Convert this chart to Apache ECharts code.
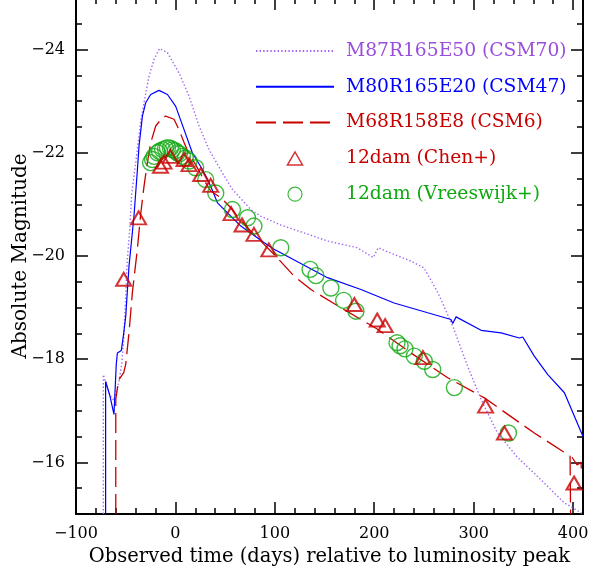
<!DOCTYPE html>
<html>
<head>
<meta charset="utf-8">
<script src="https://cdn.jsdelivr.net/npm/echarts@6/dist/echarts.min.js"></script>
<style>
html,body{margin:0;padding:0;background:#fff;}
#chart{width:604px;height:573px;}
</style>
</head>
<body>
<div id="chart"></div>
<script>
// ---- tick values ----
const xMajorTicks = [-100, 0, 100, 200, 300, 400];
const xMinorTicks = [-80,-60,-40,-20,20,40,60,80,120,140,160,180,220,240,260,280,320,340,360,380];
const yMajorTicks = [-24, -22, -20, -18, -16];
const yMinorTicks = [-24.5,-23.5,-23,-22.5,-21.5,-21,-20.5,-19.5,-19,-18.5,-17.5,-17,-16.5,-15.5];

// ---- model light curves ----
const csm70Days = [-72.5,-72.5,-66,-62,-57,-54,-52,-50.5,-48.5,-46,-44,-40,-35,-31.6,-26.6,-21.5,-16,-8,3.6,13.7,23.8,33.8,47.3,57.4,75.8,86,106,126,153,183,199,204,220,237,250,258,265,279,294,307.5,314,324,344,371,391,410];
const csm70Mag  = [-15,-17.7,-17.3,-17.2,-17.55,-17.9,-18.4,-19.0,-19.9,-20.5,-21.2,-21.8,-22.6,-22.97,-23.48,-23.81,-24.02,-23.94,-23.55,-23.1,-22.52,-22.06,-21.61,-21.29,-20.9,-20.77,-20.6,-20.47,-20.29,-20.16,-19.97,-20.16,-20.03,-19.9,-19.77,-19.5,-19.25,-18.64,-17.86,-17.22,-16.96,-16.57,-16.1,-15.6,-15.22,-15.0];

const csm47Days = [-70.2,-70.2,-66,-61.8,-59.5,-58.4,-54.4,-52,-50,-46.7,-41.7,-38.5,-36.6,-33.2,-29.9,-24.9,-16.5,-8,0.3,8.7,17,27,35.5,42.3,65.8,89,99.3,153,186.6,220,253.8,277.2,279,282.3,307.5,327.6,346,349.4,361,374.6,391.3,410];
const csm47Mag  = [-15,-17.57,-17.3,-16.93,-17.9,-18.12,-18.17,-18.5,-18.83,-19.8,-20.77,-21.6,-22.13,-22.71,-22.97,-23.13,-23.21,-23.13,-22.9,-22.45,-22.0,-21.68,-21.35,-21.03,-20.58,-20.26,-20.13,-19.58,-19.35,-19.09,-18.9,-18.77,-18.69,-18.82,-18.56,-18.51,-18.41,-18.43,-18.06,-17.7,-17.35,-16.5];

const csm6Days = [-60,-60,-57,-52,-50,-46.7,-43.3,-38.3,-35,-31.6,-28.2,-24.9,-19.8,-13.1,-9.8,-1.4,3.6,8.7,13,20,28,35.5,45.6,55,65,80,99.3,119.4,136.3,169.8,203.4,237,273.9,310.8,361,394.8,397,397.5,398,399,404,408,408.5];
const csm6Mag  = [-15,-17.22,-17.6,-17.74,-17.9,-18.51,-19.29,-20.13,-20.8,-21.35,-21.81,-22.19,-22.52,-22.68,-22.71,-22.65,-22.45,-22.2,-22.0,-21.78,-21.5,-21.26,-21.13,-20.95,-20.7,-20.4,-20.03,-19.61,-19.35,-18.96,-18.58,-18.12,-17.64,-17.25,-16.57,-16.15,-16.12,-15.0,null,-16.1,-15.95,-16.0,-15.75];

// ---- observations ----
const chenDays = [-52,-37,-15,-11.5,-5,8.7,13.7,25.5,35.5,56,67,79,94,180,203,211,249,312,331,401];
const chenMag  = [-19.55,-20.74,-21.74,-21.82,-21.93,-21.87,-21.77,-21.58,-21.37,-20.82,-20.6,-20.42,-20.12,-19.06,-18.76,-18.65,-18.03,-17.09,-16.57,-15.6];

const vreesDays = [-25,-23,-21.5,-18,-16,-13,-10,-8,-5,-3,0,2,4,7,10,13.7,20.4,30.5,40.6,57.4,72.5,79,106,135.5,141.3,156.4,169.2,181.6,222.9,226,230.9,240.3,250.4,258.8,280.6,335];
const vreesMag  = [-21.81,-21.87,-21.93,-22.0,-22.03,-22.06,-22.08,-22.1,-22.09,-22.06,-22.04,-22.0,-21.98,-21.93,-21.9,-21.84,-21.71,-21.48,-21.22,-20.9,-20.74,-20.58,-20.16,-19.74,-19.62,-19.38,-19.14,-18.93,-18.32,-18.26,-18.2,-18.06,-17.96,-17.8,-17.45,-16.57];

const names = ['M87R165E50 (CSM70)', 'M80R165E20 (CSM47)', 'M68R158E8 (CSM6)', '12dam (Chen+)', '12dam (Vreeswijk+)'];

function zip(a, b) { return a.map((v, i) => [v, b[i] === null ? '-' : b[i]]); }

const FONT = 'DejaVu Serif';
const PURPLE = '#a264f2', PURPLE_T = '#9a4fdc';
const BLUE = '#0000ff';
const RED = '#c80000';
const GREEN = '#10a810';
const NONE = 'rgba(0,0,0,0)';
const minus = v => (v < 0 ? '\u2212' + Math.abs(v) : '' + v);

// legend icons: invisible bounding points keep the 78x14 legend box, so the mark keeps its shape
const TRI_ICON = 'path://M0,0M78,14M31.5,13.5L39,0.5L46.5,13.5Z';
const CIRC_ICON = 'path://M0,0M78,14M46,7A7,7,0,1,1,32,7A7,7,0,1,1,46,7Z';

const XMIN = -100, XMAX = 410, YMIN = -25, YMAX = -15;

function xAx(pos, vals, len, labels) {
  return {
    type: 'value', position: pos, min: XMIN, max: XMAX,
    axisLine: {show: false, onZero: false}, splitLine: {show: false},
    axisTick: {show: true, inside: true, length: len, customValues: vals, lineStyle: {color: '#000', width: 1.5}},
    axisLabel: labels ? {show: true, customValues: vals, formatter: minus, margin: 12, fontFamily: FONT, fontSize: 16, color: '#000'} : {show: false}
  };
}
function yAx(pos, vals, len, labels) {
  return {
    type: 'value', position: pos, min: YMIN, max: YMAX, inverse: true,
    axisLine: {show: false, onZero: false}, splitLine: {show: false},
    axisTick: {show: true, inside: true, length: len, customValues: vals, lineStyle: {color: '#000', width: 1.5}},
    axisLabel: labels ? {show: true, customValues: vals, formatter: minus, margin: 11, fontFamily: FONT, fontSize: 16, color: '#000'} : {show: false}
  };
}

const xAxes = [xAx('bottom', xMajorTicks, 12, true), xAx('bottom', xMinorTicks, 6, false), xAx('top', xMajorTicks, 12, false), xAx('top', xMinorTicks, 6, false)];
xAxes[0].name = 'Observed time (days) relative to luminosity peak';
xAxes[0].nameLocation = 'middle';
xAxes[0].nameGap = 33;
xAxes[0].nameMoveOverlap = false;
xAxes[0].nameTextStyle = {fontFamily: FONT, fontSize: 19.5, color: '#000'};

const yAxes = [yAx('left', yMajorTicks, 12, true), yAx('left', yMinorTicks, 6, false), yAx('right', yMajorTicks, 12, false), yAx('right', yMinorTicks, 6, false)];
yAxes[0].name = 'Absolute Magnitude';
yAxes[0].nameLocation = 'middle';
yAxes[0].nameGap = 45;
yAxes[0].nameMoveOverlap = false;
yAxes[0].nameTextStyle = {fontFamily: FONT, fontSize: 20, color: '#000'};

const chart = echarts.init(document.getElementById('chart'), null, {renderer: 'canvas'});
chart.setOption({
  backgroundColor: '#fff',
  animation: false,
  grid: {left: 76, right: 21, top: -2, bottom: 59, show: true, borderColor: '#000', borderWidth: 2,
         backgroundColor: 'transparent', outerBoundsMode: 'none', containLabel: false},
  xAxis: xAxes,
  yAxis: yAxes,
  legend: {
    orient: 'vertical', left: 250, top: 35,
    itemWidth: 78, itemHeight: 14, itemGap: 13.8, symbolKeepAspect: true,
    textStyle: {fontFamily: FONT, fontSize: 18.7, lineHeight: 22, padding: [0, 0, 0, 7]},
    data: [
      {name: names[0], textStyle: {color: PURPLE_T}, itemStyle: {color: NONE, borderColor: NONE, borderWidth: 0}},
      {name: names[1], textStyle: {color: BLUE}, itemStyle: {color: NONE, borderColor: NONE, borderWidth: 0}},
      {name: names[2], textStyle: {color: RED}, itemStyle: {color: NONE, borderColor: NONE, borderWidth: 0}},
      {name: names[3], icon: TRI_ICON, textStyle: {color: RED}, itemStyle: {color: NONE, borderColor: RED, borderWidth: 1.5}},
      {name: names[4], icon: CIRC_ICON, textStyle: {color: GREEN}, itemStyle: {color: NONE, borderColor: GREEN, borderWidth: 1.2}}
    ]
  },
  series: [
    {name: names[0], type: 'line', data: zip(csm70Days, csm70Mag), symbol: 'none', z: 2,
     lineStyle: {color: PURPLE, width: 1.4, type: [1.4, 2.2]}, itemStyle: {color: PURPLE}},
    {name: names[1], type: 'line', data: zip(csm47Days, csm47Mag), symbol: 'none', z: 2,
     lineStyle: {color: BLUE, width: 1.2}, itemStyle: {color: BLUE}},
    {name: names[2], type: 'line', data: zip(csm6Days, csm6Mag), symbol: 'none', z: 2, connectNulls: false,
     lineStyle: {color: RED, width: 1.3, type: [20, 7]}, itemStyle: {color: RED}},
    {name: names[3], type: 'scatter', data: zip(chenDays, chenMag), symbol: 'triangle', symbolSize: [15, 13], z: 4,
     itemStyle: {color: NONE, borderColor: RED, borderWidth: 2}},
    {name: names[4], type: 'scatter', data: zip(vreesDays, vreesMag), symbol: 'circle', symbolSize: 16, z: 3,
     itemStyle: {color: NONE, borderColor: GREEN, borderWidth: 1.4}}
  ]
});
</script>
</body>
</html>
